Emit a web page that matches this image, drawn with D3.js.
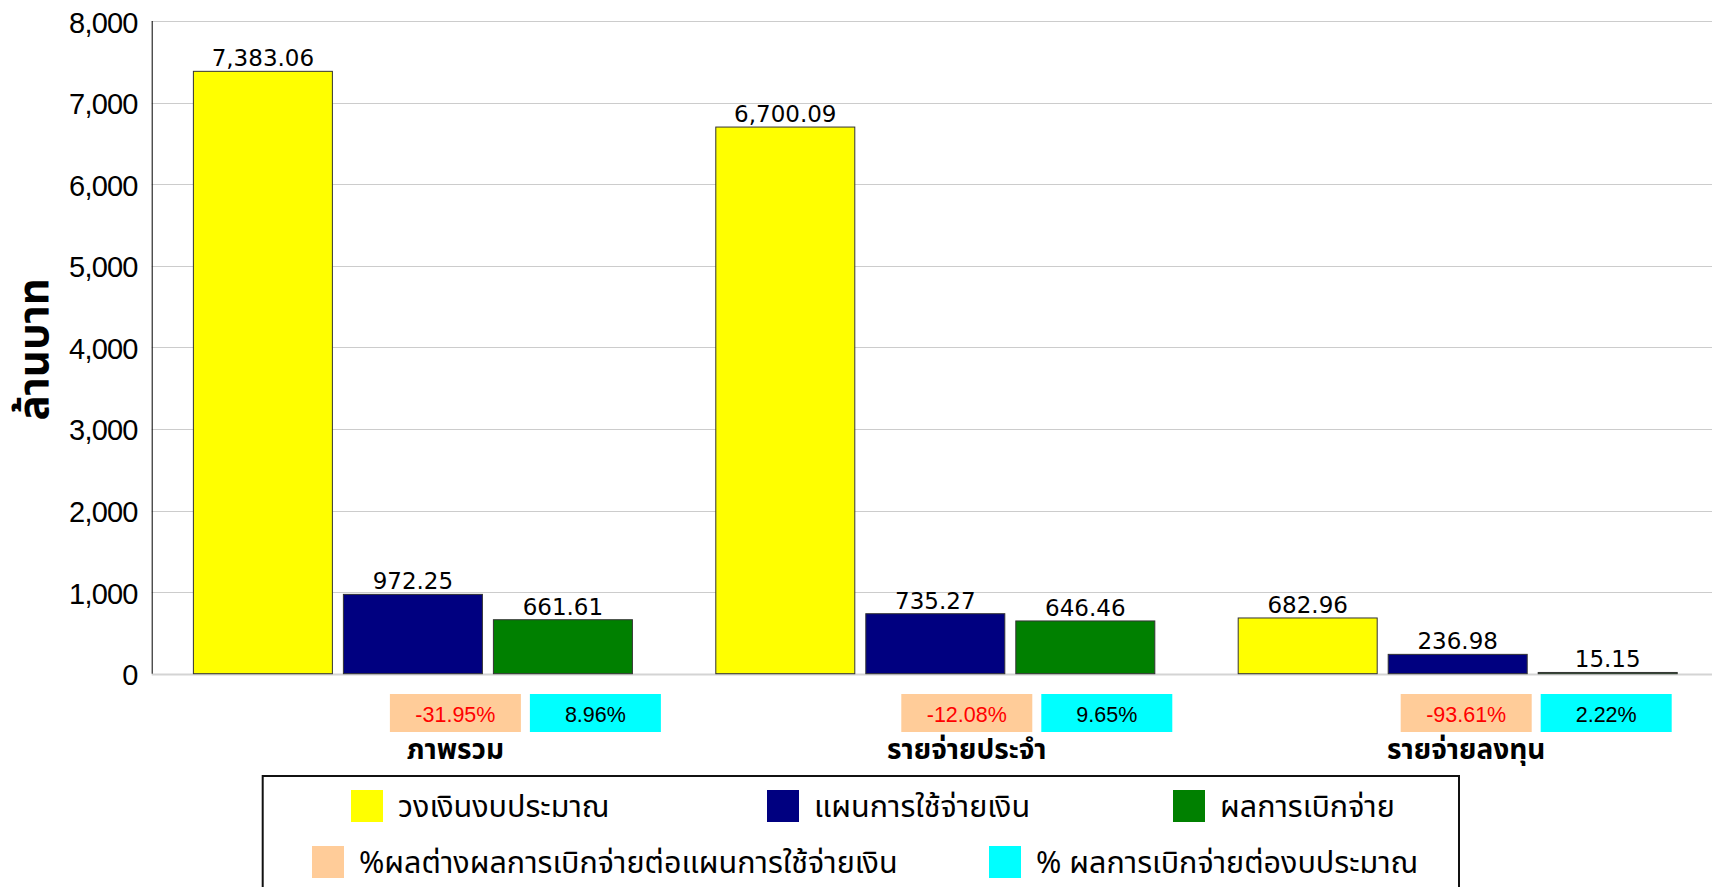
<!DOCTYPE html>
<html>
<head>
<meta charset="utf-8">
<script src="https://cdn.jsdelivr.net/npm/d3@7"></script>
<style>
    html, body { margin: 0; padding: 0; background: #fff; overflow: hidden; }
    svg { display: block; }
    .thai { font-family: Tahoma, "Noto Sans Thai", "Noto Sans Thai UI", Loma, Garuda, sans-serif; }
</style>
</head>
<body>
<div id="chart"></div>
<script>
"use strict";

// data
const categories = ['ภาพรวม', 'รายจ่ายประจำ', 'รายจ่ายลงทุน'];
const seriesNames = ['วงเงินงบประมาณ', 'แผนการใช้จ่ายเงิน', 'ผลการเบิกจ่าย'];
const budget = [7383.06, 6700.09, 682.96];
const plan = [972.25, 735.27, 236.98];
const paid = [661.61, 646.46, 15.15];
const diffPct = [-31.95, -12.08, -93.61];
const paidPct = [8.96, 9.65, 2.22];
const noteNames = ['%ผลต่างผลการเบิกจ่ายต่อแผนการใช้จ่ายเงิน', '% ผลการเบิกจ่ายต่องบประมาณ'];
const yTicks = [0, 1000, 2000, 3000, 4000, 5000, 6000, 7000, 8000];

const width = 1712, height = 887;
const colors = ['#ffff00', '#000080', '#008000'];
const noteColors = ['#ffcc99', '#00ffff'];
const plot = {left: 151.7, top: 21, bottom: 673.7, step: 522.4};
const noteShift = [197, 186, 163];   // where the % boxes sit inside each group
const pct = v => d3.format('.2f')(v).replace('\u2212', '-') + '%';

const svg = d3.select('#chart').append('svg')
    .attr('width', width)
    .attr('height', height);

const y = d3.scaleLinear().domain([0, 8000]).range([plot.bottom, plot.top]);
const x0 = d3.scaleBand()
    .domain(categories)
    .range([plot.left, plot.left + plot.step * categories.length])
    .paddingInner(0.1577)
    .paddingOuter(0.1577 / 2);
const x1 = d3.scaleBand()
    .domain(seriesNames)
    .range([0, x0.bandwidth()])
    .paddingInner(0.0667);

// grid
svg.append('g')
    .selectAll('line')
    .data(yTicks)
    .join('line')
    .attr('x1', plot.left)
    .attr('x2', width)
    .attr('y1', d => Math.round(y(d)) + 0.5)
    .attr('y2', d => Math.round(y(d)) + 0.5)
    .attr('stroke', d => d === 0 ? '#d4d4d4' : '#cccccc')
    .attr('stroke-width', d => d === 0 ? 2 : 1);

const yAxis = d3.axisLeft(y)
    .tickValues(yTicks)
    .tickFormat(d3.format(','))
    .tickSize(0)
    .tickPadding(14);

const gy = svg.append('g')
    .attr('transform', `translate(${plot.left},0)`)
    .call(yAxis);
gy.select('.domain').attr('stroke', '#000').attr('d', `M0.5,${plot.top}V${plot.bottom}`);
gy.selectAll('text')
    .attr('font-family', '"Liberation Sans", Arial, sans-serif')
    .attr('font-size', 29)
    .attr('letter-spacing', -0.8)
    .attr('fill', '#000')
    .attr('dy', '0.38em');

svg.append('text')
    .attr('class', 'thai')
    .attr('transform', `translate(48,${(plot.top + plot.bottom) / 2 + 2}) rotate(-90)`)
    .attr('text-anchor', 'middle')
    .attr('font-size', 42)
    .attr('font-weight', 'bold')
    .text('ล้านบาท');

// bars
const rows = categories.map((c, i) => ({
    category: c,
    values: [budget[i], plan[i], paid[i]].map((v, j) => ({series: seriesNames[j], value: v, color: colors[j]}))
}));

const groups = svg.append('g')
    .selectAll('g')
    .data(rows)
    .join('g')
    .attr('transform', d => `translate(${x0(d.category)},0)`);

groups.selectAll('rect')
    .data(d => d.values)
    .join('rect')
    .attr('x', d => x1(d.series) + 0.5)
    .attr('y', d => y(d.value))
    .attr('width', x1.bandwidth() - 1)
    .attr('height', d => y(0) - y(d.value))
    .attr('fill', d => d.color)
    .attr('stroke', '#333')
    .attr('stroke-width', 1);

groups.selectAll('text')
    .data(d => d.values)
    .join('text')
    .attr('x', d => x1(d.series) + x1.bandwidth() / 2)
    .attr('y', d => y(d.value) - 5)
    .attr('text-anchor', 'middle')
    .attr('font-family', '"DejaVu Sans", Verdana, sans-serif')
    .attr('font-size', 23)
    .attr('fill', '#000')
    .text(d => d3.format(',.2f')(d.value));

// % boxes under each group
const noteW = 131, noteH = 38, noteTop = 694;
const notes = svg.append('g')
    .selectAll('g')
    .data(categories)
    .join('g')
    .attr('transform', (d, i) => `translate(${x0(d) + noteShift[i]},${noteTop})`);

[diffPct, paidPct].forEach((vals, k) => {
    notes.append('rect')
        .attr('x', k * 140)
        .attr('width', noteW)
        .attr('height', noteH)
        .attr('fill', noteColors[k]);
    notes.append('text')
        .attr('x', k * 140 + noteW / 2)
        .attr('y', 28)
        .attr('text-anchor', 'middle')
        .attr('font-family', '"Liberation Sans", Arial, sans-serif')
        .attr('font-size', 21.5)
        .attr('fill', (d, i) => vals[i] < 0 ? '#ff0000' : '#000')
        .text((d, i) => pct(vals[i]));
});

notes.append('text')
    .attr('class', 'thai')
    .attr('x', noteW / 2)
    .attr('y', 65)
    .attr('text-anchor', 'middle')
    .attr('font-size', 28)
    .attr('font-weight', 'bold')
    .text(d => d);

// legend
const legend = svg.append('g');
legend.append('rect')
    .attr('x', 262.7)
    .attr('y', 776)
    .attr('width', 1196.3)
    .attr('height', 140)
    .attr('fill', 'none')
    .attr('stroke', '#111')
    .attr('stroke-width', 2);

const legendItems = [
    {name: seriesNames[0], color: colors[0], x: 351, row: 0},
    {name: seriesNames[1], color: colors[1], x: 767, row: 0},
    {name: seriesNames[2], color: colors[2], x: 1173, row: 0},
    {name: noteNames[0], color: noteColors[0], x: 312, row: 1},
    {name: noteNames[1], color: noteColors[1], x: 989, row: 1}
];

const li = legend.selectAll('g.item')
    .data(legendItems)
    .join('g')
    .attr('class', 'item')
    .attr('transform', d => `translate(${d.x},${790 + d.row * 56})`);
li.append('rect')
    .attr('width', 32)
    .attr('height', 32)
    .attr('fill', d => d.color);
li.append('text')
    .attr('class', 'thai')
    .attr('x', 47)
    .attr('y', 16)
    .attr('dy', '0.35em')
    .attr('font-size', 30.5)
    .text(d => d.name);
</script>
</body>
</html>
